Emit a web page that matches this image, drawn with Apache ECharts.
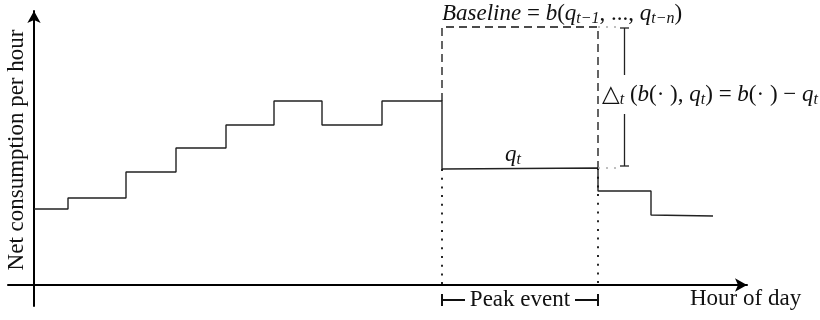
<!DOCTYPE html>
<html><head><meta charset="utf-8">
<script src="https://cdn.jsdelivr.net/npm/echarts@6/dist/echarts.min.js"></script>
<style>html,body{margin:0;padding:0;background:#fff}#c{width:820px;height:320px}</style>
</head><body><div id="c"></div>
<script>
// ---- data (hours on x, consumption on y) ----
const stepHour = [0, 1.36, 1.36, 3.68, 3.68, 5.68, 5.68, 7.68, 7.68, 9.6, 9.6, 11.52, 11.52, 13.92, 13.92, 16.32, 16.32, 22.56, 22.56, 24.68, 24.68, 27.16];
const stepLoad = [7.6, 7.6, 8.7, 8.7, 11.3, 11.3, 13.7, 13.7, 16.0, 16.0, 18.4, 18.4, 16.0, 16.0, 18.4, 18.4, 11.6, 11.7, 9.4, 9.4, 7.0, 6.9];
const baselineHour = [16.32, 16.32, 22.56, 22.56];
const baselineLoad = [18.4, 25.8, 25.8, 11.7];
const peakStart = 16.32, peakEnd = 22.56;
const peakStartLoad = 11.6, peakEndLoad = 11.7;
const baselineLevel = 25.8;
const deltaHour = 23.62;
const deltaCapHalf = 0.18;
const deltaGapTop = 21.0, deltaGapBottom = 17.1;
const deltaTop = 25.7, deltaBottom = 11.9;
const peakBracketLoad = -1.5, peakCapTop = -0.9, peakCapBottom = -2.1;
const peakTextGapLeft = 17.24, peakTextGapRight = 21.64;
const xName = 'Hour of day';
const yName = 'Net consumption per hour';
const peakLabel = 'Peak event';
const xMin = -1.04, xMax = 28.52, yMin = -2.1, yMax = 27.4;

const F = "'Liberation Serif', 'DejaVu Serif', serif";
const C = '#111';
const rich = {
  it: {fontFamily: F, fontSize: 23, fontStyle: 'italic', color: C, lineHeight: 26},
  rm: {fontFamily: F, fontSize: 23, color: C, lineHeight: 26},
  sub: {fontFamily: F, fontSize: 16, fontStyle: 'italic', color: C, lineHeight: 16, verticalAlign: 'bottom'}
};

function zip(xs, ys) { return xs.map((x, i) => [x, ys[i]]); }
function seg(points, style) {
  return {type: 'line', data: points, symbol: 'none', silent: true, clip: false, animation: false,
    lineStyle: Object.assign({color: '#222', width: 1.3, cap: 'butt'}, style)};
}
function label(x, y, text, align, rotate) {
  return {type: 'scatter', data: [[x, y]], symbolSize: 1, silent: true, clip: false, animation: false,
    itemStyle: {color: 'rgba(0,0,0,0)', opacity: 1},
    label: {show: true, position: 'inside', formatter: text, align: align || 'center', verticalAlign: 'middle',
      rotate: rotate || 0, color: C, opacity: 1, textBorderWidth: 0, rich: rich}};
}

const series = [
  seg(zip(stepHour, stepLoad), {color: '#222', width: 1.4}),
  seg(zip(baselineHour, baselineLoad), {type: [8, 5], width: 1.3, color: '#111'}),
  seg([[peakStart, peakStartLoad], [peakStart, 0]], {type: [2, 6.7], width: 1.8, color: '#111'}),
  seg([[peakEnd, peakEndLoad], [peakEnd, 0]], {type: [2, 6.7], width: 1.8, color: '#111'}),
  seg([[peakEnd, baselineLevel], [deltaHour - deltaCapHalf, baselineLevel]], {type: [2, 6], width: 1.3, color: '#aaa'}),
  seg([[peakEnd, peakEndLoad], [deltaHour - deltaCapHalf, peakEndLoad]], {type: [2, 6], width: 1.3, color: '#aaa'}),
  seg([[deltaHour, deltaTop], [deltaHour, deltaGapTop]], {}),
  seg([[deltaHour, deltaGapBottom], [deltaHour, deltaBottom]], {}),
  seg([[deltaHour - deltaCapHalf, deltaTop], [deltaHour + deltaCapHalf, deltaTop]], {}),
  seg([[deltaHour - deltaCapHalf, deltaBottom], [deltaHour + deltaCapHalf, deltaBottom]], {}),
  seg([[peakStart, peakBracketLoad], [peakTextGapLeft, peakBracketLoad]], {width: 2, color: '#111'}),
  seg([[peakTextGapRight, peakBracketLoad], [peakEnd, peakBracketLoad]], {width: 2, color: '#111'}),
  seg([[peakStart, peakCapTop], [peakStart, peakCapBottom]], {width: 2, color: '#111'}),
  seg([[peakEnd, peakCapTop], [peakEnd, peakCapBottom]], {width: 2, color: '#111'}),
  label((peakStart + peakEnd) / 2, peakBracketLoad, '{rm|' + peakLabel + '}'),
  label(19.16, 13.0, '{it|q}{sub|t}'),
  label(peakStart, 27.1, '{it|Baseline}{rm| = }{it|b}{rm|(}{it|q}{sub|t−1}{rm|, ..., }{it|q}{sub|t−n}{rm|)}', 'left'),
  label(27.04, 19.0, '{rm|△}{sub|t}{rm| (}{it|b}{rm|(· ), }{it|q}{sub|t}{rm|) = }{it|b}{rm|(· ) − }{it|q}{sub|t}'),
  label(-0.68, 13.5, '{rm|' + yName + '}', 'center', 90)
];

const chart = echarts.init(document.getElementById('c'), null, {renderer: 'canvas'});
chart.setOption({
  animation: false,
  backgroundColor: '#fff',
  grid: {left: 8, right: 73, top: 11, bottom: 14, containLabel: false, outerBoundsMode: 'none'},
  xAxis: {type: 'value', min: xMin, max: xMax,
    axisLine: {onZero: true, lineStyle: {color: '#000', width: 2}, symbol: ['none', 'arrow'], symbolSize: [10, 12]},
    axisTick: {show: false}, axisLabel: {show: false}, splitLine: {show: false},
    name: xName, nameLocation: 'end', nameGap: -57,
    nameTextStyle: {fontFamily: F, fontSize: 23, color: C, align: 'left', verticalAlign: 'top', padding: [2, 0, 0, 0]}},
  yAxis: {type: 'value', min: yMin, max: yMax,
    axisLine: {onZero: true, lineStyle: {color: '#000', width: 2}, symbol: ['none', 'arrow'], symbolSize: [10, 12]},
    axisTick: {show: false}, axisLabel: {show: false}, splitLine: {show: false}},
  series: series
});
</script></body></html>
